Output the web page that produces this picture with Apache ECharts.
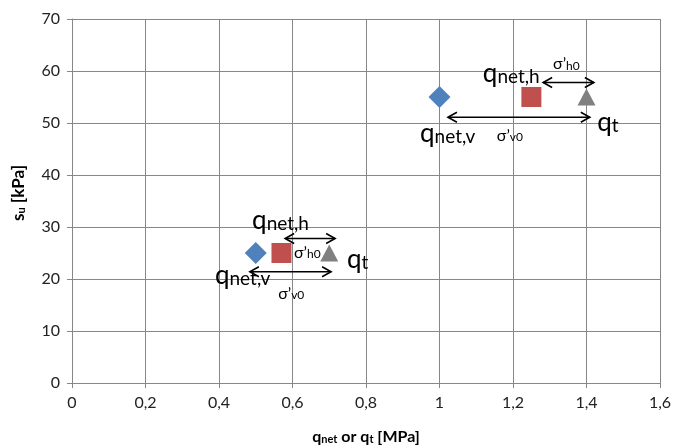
<!DOCTYPE html>
<html>
<head>
<meta charset="utf-8">
<script src="https://cdn.jsdelivr.net/npm/echarts@6/dist/echarts.min.js"></script>
<style>
  html, body { margin: 0; padding: 0; background: #fff; }
  #chart { width: 674px; height: 445px; }
</style>
</head>
<body>
<div id="chart"></div>
<script>
// Measured points: q_net,v (diamond), q_net,h (square), q_t (triangle) against s_u
const qNetV = [[0.5, 25], [1.0, 55]];
const qNetH = [[0.57, 25], [1.25, 55]];
const qT = [[0.7, 25], [1.4, 55]];

// Double-headed arrows showing the stress offsets [x1, x2, y]
const arrows = [
  [0.58, 0.716, 27.8],
  [0.484, 0.705, 21.4],
  [1.282, 1.42, 57.8],
  [1.023, 1.409, 51.1]
];

// Annotation labels: main text, subscript, style, anchor (left, middle)
const labelMain = ['q', '\u03c3\u2019', 'q', 'q', '\u03c3\u2019', 'q', '\u03c3\u2019', 'q', 'q', '\u03c3\u2019'];
const labelSub = ['net,h', 'h0', 't', 'net,v', 'v0', 'net,h', 'h0', 'net,v', 't', 'v0'];
const labelKind = ['q', 's', 'q', 'q', 's', 'q', 's', 'q', 'q', 's'];
const labelX = [0.49, 0.604, 0.748, 0.389, 0.561, 1.118, 1.309, 0.947, 1.429, 1.156];
const labelY = [31.25, 25.1, 23.75, 20.7, 17.2, 59.5, 61.4, 48.0, 50.1, 47.6];

// Axis settings
const xMin = 0, xMax = 1.6, xStep = 0.2;
const yMin = 0, yMax = 70, yStep = 10;

const FONT = 'Lato, "Open Sans", sans-serif';
const GRID_COLOR = '#878787';

const labelData = labelX.map((x, i) => [x, labelY[i], i]);

function arrowItem(params, api) {
  const p1 = api.coord([api.value(0), api.value(2)]);
  const p2 = api.coord([api.value(1), api.value(2)]);
  const h = 9, w = 5;
  const st = { stroke: '#000', lineWidth: 1.6, fill: null };
  return {
    type: 'group',
    children: [
      { type: 'line', shape: { x1: p1[0], y1: p1[1], x2: p2[0], y2: p2[1] }, style: st },
      { type: 'polyline', shape: { points: [[p1[0] + h, p1[1] - w], [p1[0], p1[1]], [p1[0] + h, p1[1] + w]] }, style: st },
      { type: 'polyline', shape: { points: [[p2[0] - h, p2[1] - w], [p2[0], p2[1]], [p2[0] - h, p2[1] + w]] }, style: st }
    ]
  };
}

function labelItem(params, api) {
  const i = api.value(2);
  const p = api.coord([api.value(0), api.value(1)]);
  const kind = labelKind[i];
  const mainKey = kind === 'q' ? 'qm' : 'sm';
  const subKey = kind === 'q' ? 'qs' : 'ss';
  return {
    type: 'text',
    x: p[0],
    y: p[1],
    style: {
      text: '{' + mainKey + '|' + labelMain[i] + '}{' + subKey + '|' + labelSub[i] + '}',
      align: 'left',
      verticalAlign: 'middle',
      fill: '#000',
      rich: {
        qm: { fontFamily: FONT, fontSize: 26, lineHeight: 26, padding: [0, 0, 9, 0], verticalAlign: 'top', fill: '#000' },
        qs: { fontFamily: FONT, fontSize: 19, lineHeight: 19, verticalAlign: 'bottom', fill: '#000' },
        sm: { fontFamily: FONT, fontSize: 16, lineHeight: 16, padding: [0, 0, 6, 0], verticalAlign: 'top', fill: '#000' },
        ss: { fontFamily: FONT, fontSize: 12, lineHeight: 12, verticalAlign: 'bottom', fill: '#000' }
      }
    }
  };
}

const chart = echarts.init(document.getElementById('chart'), null, { renderer: 'canvas' });
chart.setOption({
  backgroundColor: '#fff',
  animation: false,
  textStyle: { fontFamily: FONT },
  grid: { left: 72, right: 14, top: 19, bottom: 62, containLabel: false, outerBoundsMode: 'none' },
  xAxis: {
    type: 'value', min: xMin, max: xMax, interval: xStep,
    name: '{b|q}{bs|net}{b| or q}{bs|t}{b| [MPa]}',
    nameLocation: 'middle', nameGap: 46,
    nameTextStyle: {
      rich: {
        b: { fontFamily: FONT, fontWeight: 'bold', fontSize: 16, color: '#000', lineHeight: 16, padding: [0, 0, 4, 0], verticalAlign: 'top' },
        bs: { fontFamily: FONT, fontWeight: 'bold', fontSize: 11, color: '#000', lineHeight: 11, verticalAlign: 'bottom' }
      }
    },
    axisLine: { show: true, onZero: false, lineStyle: { color: GRID_COLOR, width: 1 } },
    axisTick: { show: true, length: 5, lineStyle: { color: GRID_COLOR } },
    axisLabel: {
      fontFamily: FONT, fontSize: 16, color: '#222', margin: 12,
      formatter: v => String(Math.round(v * 10) / 10).replace('.', ',')
    },
    splitLine: { show: true, lineStyle: { color: GRID_COLOR, width: 1 } }
  },
  yAxis: {
    type: 'value', min: yMin, max: yMax, interval: yStep,
    name: '{b|s}{bs|u}{b| [kPa]}',
    nameLocation: 'middle', nameGap: 44, nameRotate: 90,
    nameTextStyle: {
      padding: [0, 0, 0, 16],
      rich: {
        b: { fontFamily: FONT, fontWeight: 'bold', fontSize: 17, color: '#000', lineHeight: 17, padding: [0, 0, 4, 0], verticalAlign: 'top' },
        bs: { fontFamily: FONT, fontWeight: 'bold', fontSize: 11, color: '#000', lineHeight: 11, verticalAlign: 'bottom' }
      }
    },
    axisLine: { show: true, lineStyle: { color: GRID_COLOR, width: 1 } },
    axisTick: { show: true, length: 5, lineStyle: { color: GRID_COLOR } },
    axisLabel: { fontFamily: FONT, fontSize: 16, color: '#222', margin: 12 },
    splitLine: { show: true, lineStyle: { color: GRID_COLOR, width: 1 } }
  },
  series: [
    {
      name: 'q_net,v', type: 'scatter', data: qNetV,
      symbol: 'diamond', symbolSize: [22, 22],
      itemStyle: { color: '#4F81BD', opacity: 1 }, z: 3
    },
    {
      name: 'q_net,h', type: 'scatter', data: qNetH,
      symbol: 'rect', symbolSize: [20, 20],
      itemStyle: { color: '#C0504D', opacity: 1 }, z: 3
    },
    {
      name: 'q_t', type: 'scatter', data: qT,
      symbol: 'triangle', symbolSize: [18, 17],
      itemStyle: { color: '#808080', opacity: 1 }, z: 3
    },
    {
      name: 'arrows', type: 'custom', data: arrows,
      renderItem: arrowItem, z: 4, silent: true
    },
    {
      name: 'labels', type: 'custom', data: labelData,
      renderItem: labelItem, z: 5, silent: true
    }
  ]
});
</script>
</body>
</html>
